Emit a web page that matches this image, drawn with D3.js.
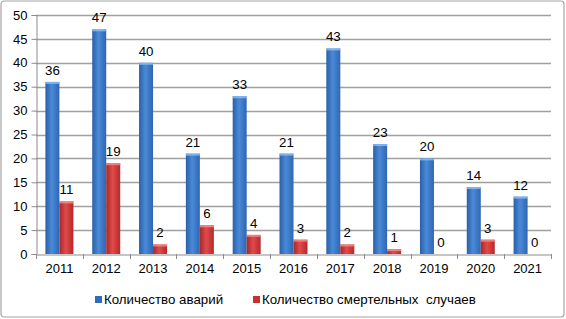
<!DOCTYPE html>
<html><head><meta charset="utf-8">
<script src="https://cdn.jsdelivr.net/npm/d3@7"></script>
<style>body{margin:0;background:#fff}svg{display:block;font-family:"Liberation Sans",Arial,sans-serif}</style>
</head><body><svg id="c" width="566" height="319"></svg>
<script>
const years = ["2011","2012","2013","2014","2015","2016","2017","2018","2019","2020","2021"];
const accidents = [36,47,40,21,33,21,43,23,20,14,12];
const deaths = [11,19,2,6,4,3,2,1,0,3,0];
const seriesNames = ["Количество аварий","Количество смертельных  случаев"];
const yTicks = [0,5,10,15,20,25,30,35,40,45,50];

const svg = d3.select("#c");
const m = {l:36, r:551, t:15, b:254};
const x = d3.scaleBand().domain(years).range([m.l, m.r]).paddingInner(0).paddingOuter(0);
const y = d3.scaleLinear().domain([0,50]).range([m.b, m.t]);
const bw = 14;

const defs = svg.append("defs");
function grad(id, dark, mid, light){
  const g = defs.append("linearGradient").attr("id", id).attr("x1","0").attr("x2","1").attr("y1","0").attr("y2","0");
  g.append("stop").attr("offset","0%").attr("stop-color", dark);
  g.append("stop").attr("offset","45%").attr("stop-color", light);
  g.append("stop").attr("offset","100%").attr("stop-color", mid);
}
grad("gb", "#2a5fa8", "#2f66b2", "#4a8ad8");
grad("gr", "#a82828", "#b52a2a", "#e04a4a");

svg.append("rect").attr("x",1).attr("y",1).attr("width",563).attr("height",316).attr("rx",3)
  .attr("fill","#fff").attr("stroke","#a6a6a6").attr("stroke-width",1.2);

// gridlines
svg.append("g").selectAll("line").data(yTicks.filter(d=>d>0)).join("line")
  .attr("x1", m.l).attr("x2", m.r).attr("y1", d=>Math.round(y(d))+0.5).attr("y2", d=>Math.round(y(d))+0.5)
  .attr("stroke","#a0a0a0").attr("stroke-width",1.3);

// y axis
const ya = svg.append("g").attr("transform",`translate(${m.l+0.5},0)`)
  .call(d3.axisLeft(y).tickValues(yTicks).tickSize(5).tickPadding(4).tickFormat(d3.format("d")));
ya.select(".domain").attr("stroke","#8c8c8c");
ya.selectAll(".tick line").attr("stroke","#8c8c8c");
ya.selectAll("text").attr("font-size",13).attr("fill","#000").attr("font-family","Liberation Sans, Arial, sans-serif");

// x axis
const xa = svg.append("g").attr("transform",`translate(0,${m.b+0.5})`)
  .call(d3.axisBottom(x).tickSize(0).tickPadding(9));
xa.select(".domain").attr("stroke","#8c8c8c");
xa.selectAll("text").attr("font-size",13).attr("fill","#000").attr("font-family","Liberation Sans, Arial, sans-serif");
// category boundary ticks
svg.append("g").selectAll("line").data(d3.range(years.length+1)).join("line")
  .attr("x1", i=>Math.round(m.l + i*x.bandwidth())+0.5).attr("x2", i=>Math.round(m.l + i*x.bandwidth())+0.5)
  .attr("y1", m.b).attr("y2", m.b+5).attr("stroke","#8c8c8c");

const data = years.map((yr,i)=>({yr, a:accidents[i], d:deaths[i]}));
const g = svg.append("g");
function bars(key, off, fill, hl){
  g.selectAll(".b"+key).data(data).join("rect")
    .attr("x", d=>x(d.yr)+x.bandwidth()/2+off).attr("width", bw)
    .attr("y", d=>y(d[key])).attr("height", d=>m.b - y(d[key]))
    .attr("fill", fill);
  g.selectAll(".h"+key).data(data.filter(d=>d[key]>0)).join("rect")
    .attr("x", d=>x(d.yr)+x.bandwidth()/2+off).attr("width", bw)
    .attr("y", d=>y(d[key])).attr("height", 2).attr("fill", hl).attr("opacity",0.8);
  g.selectAll(".l"+key).data(data).join("text")
    .attr("x", d=>x(d.yr)+x.bandwidth()/2+off+bw/2)
    .attr("y", d=>y(d[key])-7)
    .attr("text-anchor","middle").attr("font-size",13.3).attr("fill","#000")
    .text(d=>d[key]);
}
bars("a", -bw, "url(#gb)", "#8fc0f0");
bars("d", 0, "url(#gr)", "#f49090");

// legend
const lg = svg.append("g").attr("font-size",13.3);
const items = [{n:seriesNames[0], c:"#2f6bc0", x:95},{n:seriesNames[1], c:"#c83030", x:253}];
items.forEach(it=>{
  lg.append("rect").attr("x", it.x).attr("y",296).attr("width",7).attr("height",7).attr("fill",it.c);
  lg.append("text").attr("x", it.x+9).attr("y",304).attr("fill","#000").attr("xml:space","preserve")
    .style("white-space","pre").text(it.n);
});
</script></body></html>
